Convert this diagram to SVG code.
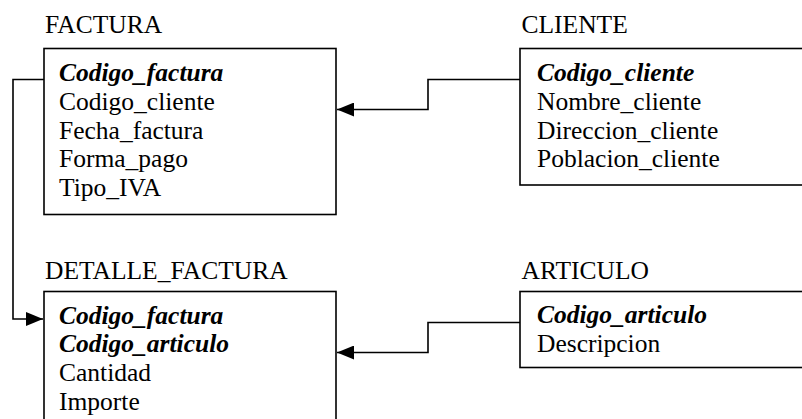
<svg xmlns="http://www.w3.org/2000/svg" width="802" height="419" viewBox="0 0 802 419">
<defs>
<style>
text{font-family:'Liberation Serif','DejaVu Serif','Times New Roman',serif;font-size:25.5px;fill:#000}
.k{font-weight:bold;font-style:italic}
.box{fill:#fff;stroke:#000;stroke-width:1.6}
.c{fill:none;stroke:#000;stroke-width:1.6}
</style>
<marker id="ah" markerWidth="17" markerHeight="14" refX="17" refY="7" orient="auto" markerUnits="userSpaceOnUse">
<path d="M0,0 L17,7 L0,14 Z" fill="#000"/>
</marker>
</defs>
<rect width="802" height="419" fill="#fff"/>
<g id="connectors">
<polyline class="c" points="520,79.5 428,79.5 428,109.5 337,109.5" marker-end="url(#ah)"/>
<polyline class="c" points="520,322.5 428,322.5 428,352.5 337,352.5" marker-end="url(#ah)"/>
<polyline class="c" points="44,79.5 13,79.5 13,319 43,319" marker-end="url(#ah)"/>
</g>
<g font-family="Liberation Serif, DejaVu Serif, serif">
<g id="factura">
<text x="45" y="33">FACTURA</text>
<rect class="box" x="44" y="48.5" width="292" height="166"/>
<text x="59" y="81" class="k">Codigo_factura</text>
<text x="59" y="110">Codigo_cliente</text>
<text x="59" y="138.5">Fecha_factura</text>
<text x="59" y="167">Forma_pago</text>
<text x="59" y="195.5">Tipo_IVA</text>
</g>
<g id="cliente">
<text x="521.5" y="33">CLIENTE</text>
<rect class="box" x="520" y="48.5" width="300" height="136.5"/>
<text x="537" y="81" class="k">Codigo_cliente</text>
<text x="537" y="110">Nombre_cliente</text>
<text x="537" y="138.5">Direccion_cliente</text>
<text x="537" y="167">Poblacion_cliente</text>
</g>
<g id="detalle_factura">
<text x="45" y="278.5">DETALLE_FACTURA</text>
<rect class="box" x="44" y="291.5" width="292" height="140"/>
<text x="59" y="323.5" class="k">Codigo_factura</text>
<text x="59" y="352" class="k">Codigo_articulo</text>
<text x="59" y="381">Cantidad</text>
<text x="59" y="410">Importe</text>
</g>
<g id="articulo">
<text x="521.5" y="278.5">ARTICULO</text>
<rect class="box" x="520" y="291.5" width="300" height="76"/>
<text x="537" y="323" class="k">Codigo_articulo</text>
<text x="537" y="351.5">Descripcion</text>
</g>
</g>
</svg>
